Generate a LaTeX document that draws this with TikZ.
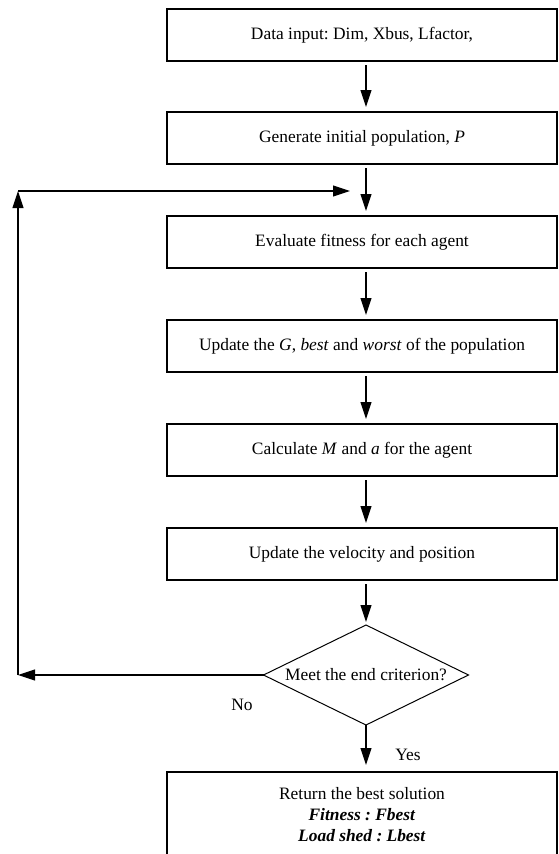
\documentclass[tikz,border=0pt]{standalone}
\usepackage{fontspec}
\setmainfont{Liberation Serif}
\frenchspacing
\usetikzlibrary{shapes.geometric, arrows.meta, positioning, calc}
\tikzset{
  process/.style={rectangle,draw=black,line width=1.3pt,outer sep=0pt,minimum width=390pt,minimum height=52pt,inner sep=2pt,font=\fontsize{17.4}{21}\selectfont},
  decision/.style={diamond,draw=black,line width=1pt,outer sep=0pt,aspect=2.05,minimum width=205pt,minimum height=100pt,inner sep=0pt,font=\fontsize{17.4}{21}\selectfont},
  flow/.style={line width=1.1pt,-{Triangle[length=17pt,width=11pt]}},
  step_flow/.style={flow,shorten <=4pt,shorten >=5pt},
  tag/.style={font=\fontsize{17.4}{21}\selectfont},
}
\begin{document}
\begin{tikzpicture}[x=1pt,y=-1pt]
	\useasboundingbox (0,0) rectangle (558,854);
	\clip (0,0) rectangle (558,854);
	\node[process] (input) at (362,35) {Data input: Dim, Xbus, Lfactor,};
	\node[process,below=51pt of input] (init) {Generate initial population, \textit{P}};
	\node[process,below=52pt of init] (eval) {Evaluate fitness for each agent};
	\node[process,below=52pt of eval] (upd) {Update the \textit{G}, \textit{best} and \textit{worst} of the population};
	\node[process,below=52pt of upd] (calc) {Calculate \textit{M} and \textit{a} for the agent};
	\node[process,below=52pt of calc] (velo) {Update the velocity and position};
	\node[decision,below=45pt of velo,xshift=4pt] (crit) {Meet the end criterion?};
	\node[process,below=47pt of crit,xshift=-4pt,minimum height=86pt,align=center] (result)
		{Return the best solution\\ \textbf{\textit{Fitness : Fbest}}\\ \textbf{\textit{Load shed : Lbest}}};
	\coordinate (axis) at (crit.center);
	\draw[step_flow] (input.south -| axis) -- (init.north -| axis);
	\draw[step_flow] (init.south -| axis) -- (eval.north -| axis);
	\draw[step_flow] (eval.south -| axis) -- (upd.north -| axis);
	\draw[step_flow] (upd.south -| axis) -- (calc.north -| axis);
	\draw[step_flow] (calc.south -| axis) -- (velo.north -| axis);
	\draw[step_flow,shorten >=3pt] (velo.south -| axis) -- (crit.north);
	\draw[flow,shorten >=7pt] (crit.south) -- (result.north -| axis);
	% loop back to the evaluation step
	\coordinate (upc) at (18,191);
	\coordinate (lowc) at (upc |- crit.west);
	\coordinate (join) at (350,191);
	\draw[flow] (crit.west) -- (lowc);
	\draw[flow] (lowc) -- (upc);
	\draw[flow] (upc) -- (join);
	\node[tag] (no) at (242,705) {No};
	\node[tag] (yes) at (408,755) {Yes};
\end{tikzpicture}
\end{document}
